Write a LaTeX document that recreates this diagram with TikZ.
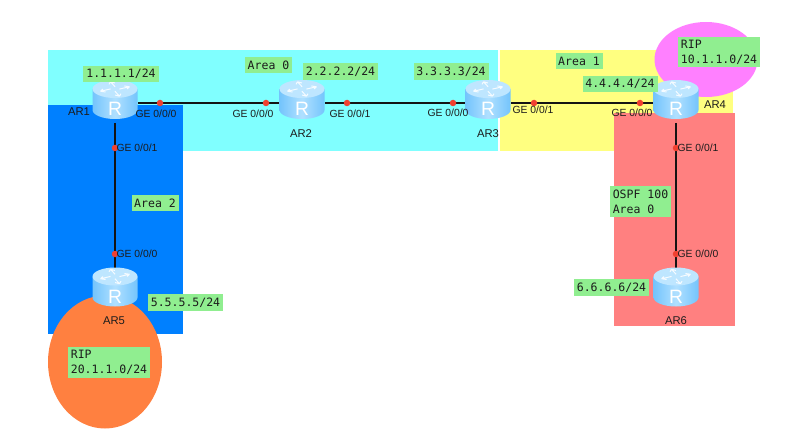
\documentclass[tikz,border=0pt]{standalone}
\usepackage{fontspec}
\setsansfont{Liberation Sans}
\setmonofont{DejaVu Sans Mono}
\usetikzlibrary{positioning,shapes.geometric}
\definecolor{ospfcyan}{HTML}{80FFFF}
\definecolor{ospfblue}{HTML}{0080FF}
\definecolor{ospfyellow}{HTML}{FFFF80}
\definecolor{ospfred}{HTML}{FF8080}
\definecolor{ripmagenta}{HTML}{FF80FF}
\definecolor{riporange}{HTML}{FF8040}
\definecolor{notegreen}{HTML}{90EE90}
\definecolor{portred}{HTML}{F04030}
\definecolor{linkink}{HTML}{141414}
\definecolor{rtside}{HTML}{74C4FC}
\definecolor{rtmid}{HTML}{B0E0FF}
\definecolor{rttop}{HTML}{BEE6FF}
\definecolor{labelink}{HTML}{1C1C1C}
\tikzset{
  ripcloud/.style={
    shape=ellipse,
    inner sep=0pt
  },
  noteblock/.style={
    fill=notegreen,
    align=left,
    inner xsep=0pt,
    inner ysep=0pt,
    minimum height=3.3mm,
    font=\fontsize{6.55pt}{8.6pt}\selectfont\ttfamily,
    text=labelink
  },
  linkedge/.style={
    line width=0.55mm,
    color=linkink
  },
  portdot/.style={
    shape=circle,
    fill=portred,
    inner sep=0pt,
    minimum size=1.3mm
  },
  portlabel/.style={
    font=\fontsize{5.9pt}{7pt}\selectfont\sffamily,
    text=labelink,
    inner sep=0pt
  },
  routername/.style={
    font=\fontsize{6.4pt}{7pt}\selectfont\sffamily,
    text=labelink,
    inner sep=0pt
  },
  routerbox/.style={
    shape=rectangle,
    inner sep=0pt,
    minimum width=9mm,
    minimum height=7.8mm
  },
  pics/routericon/.style={
    code={
      \shade[left color=rtside, right color=rtside, middle color=rtmid]
        (-22.5,-10.5) -- (-22.5,10.5) arc[x radius=22.5, y radius=9, start angle=180, end angle=0]
        -- (22.5,-10.5) -- cycle;
      \fill[rttop] (0,-10.5) ellipse[x radius=22.5, y radius=9];
      \foreach \rtang in {25,115,205,295} {
        \draw[white, opacity=0.85, line width=0.2mm, shift={(0,-10.5)}, yscale=0.5, rotate=\rtang]
          (4,2) -- (15,2) (15,2) -- (11,-1.5) (15,2) -- (11,5);
      }
      \node[text=white, inner sep=0pt, font=\fontsize{11pt}{11pt}\selectfont\sffamily] at (0,9.8) {R};
    }
  }
}
\begin{document}
\begin{tikzpicture}[x=0.2mm,y=-0.2mm]
  \useasboundingbox (0,0) rectangle (794,447);

  % areas
  \fill[ospfcyan] (48,50) rectangle (498,151);
  \fill[ospfyellow] (500,50) rectangle (733,151);
  \fill[ospfblue] (48,105) rectangle (183,334);
  \fill[ospfred] (614,113) rectangle (735,326);
  \node[ripcloud, fill=ripmagenta, minimum width=20.6mm, minimum height=15mm] (rip4) at (706,59.5) {};
  \node[ripcloud, fill=riporange, minimum width=22.8mm, minimum height=26.6mm] (rip5) at (105,362) {};

  % routers
  \node[routerbox] (ar1) at (115,103) {};
  \node[routerbox] (ar2) at (302,103) {};
  \node[routerbox] (ar3) at (488,103) {};
  \node[routerbox] (ar4) at (676,103) {};
  \node[routerbox] (ar5) at (115,290.5) {};
  \node[routerbox] (ar6) at (676,290.5) {};

  \draw[linkedge] (ar1) -- (ar2);
  \draw[linkedge] (ar2) -- (ar3);
  \draw[linkedge] (ar3) -- (ar4);
  \draw[linkedge] (ar1) -- (ar5);
  \draw[linkedge] (ar4) -- (ar6);

  \foreach \rtname in {ar1,ar2,ar3,ar4,ar5,ar6}
    \pic at ([yshift=0.7mm]\rtname) {routericon};

  % ports
  \foreach \dotname/\dotx/\doty in {d1/160/103,d2/266/103,d3/347/103,d4/453/103,d5/534/103,d6/640/103,d7/115/148,d8/115/254,d9/676/148,d10/676/254}
    \node[portdot] (\dotname) at (\dotx,\doty) {};

  \node[portlabel] (ge1) at (156,114) {GE 0/0/0};
  \node[portlabel] (ge2) at (253,113.5) {GE 0/0/0};
  \node[portlabel] (ge3) at (350,114) {GE 0/0/1};
  \node[portlabel] (ge4) at (448,113) {GE 0/0/0};
  \node[portlabel] (ge5) at (533,110) {GE 0/0/1};
  \node[portlabel] (ge6) at (632,113) {GE 0/0/0};
  \node[portlabel] (ge7) at (137,148) {GE 0/0/1};
  \node[portlabel] (ge8) at (137,254) {GE 0/0/0};
  \node[portlabel] (ge9) at (698,148) {GE 0/0/1};
  \node[portlabel] (ge10) at (698,254) {GE 0/0/0};

  \node[routername] (name1) at (79,112) {AR1};
  \node[routername] (name2) at (301,134) {AR2};
  \node[routername] (name3) at (488,134) {AR3};
  \node[routername] (name4) at (715,105) {AR4};
  \node[routername] (name5) at (114,321) {AR5};
  \node[routername] (name6) at (676,321) {AR6};

  % notes
  \node[noteblock, minimum width=15.2mm] (ip1) at (121,74) {1.1.1.1/24};
  \node[noteblock, minimum width=15mm] (ip2) at (340.5,71.5) {2.2.2.2/24};
  \node[noteblock, minimum width=15mm] (ip3) at (451,71.5) {3.3.3.3/24};
  \node[noteblock, minimum width=15mm] (ip4) at (620,84) {4.4.4.4/24};
  \node[noteblock, minimum width=15mm] (ip5) at (185.5,302.5) {5.5.5.5/24};
  \node[noteblock, minimum width=15mm] (ip6) at (611.5,287.5) {6.6.6.6/24};
  \node[noteblock, minimum width=9.4mm] (area0) at (268.5,65) {Area 0};
  \node[noteblock, minimum width=9.4mm] (area1) at (579,61) {Area 1};
  \node[noteblock, minimum width=9.4mm] (area2) at (155,203) {Area 2};
  \node[noteblock, minimum width=16.4mm, minimum height=6.1mm] (net4) at (719,52) {RIP\\10.1.1.0/24};
  \node[noteblock, minimum width=16.4mm, minimum height=6.1mm] (net5) at (109,362.5) {RIP\\20.1.1.0/24};
  \node[noteblock, minimum width=12.2mm, minimum height=6.1mm] (ospf) at (640.5,201.5) {OSPF 100\\Area 0};
\end{tikzpicture}
\end{document}
